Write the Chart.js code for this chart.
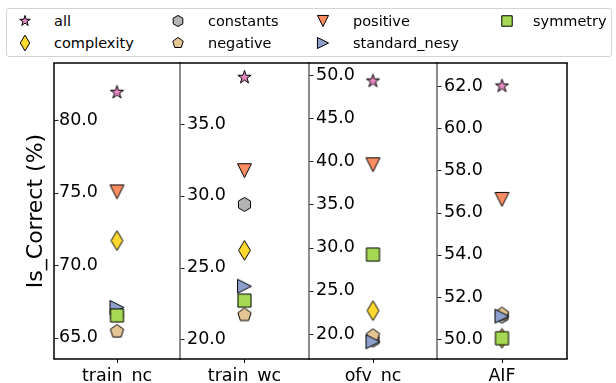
<!DOCTYPE html>
<html>
<head>
<meta charset="utf-8">
<script src="https://cdn.jsdelivr.net/npm/chart.js@4.4.0/dist/chart.umd.min.js"></script>
<style>
  html, body { margin: 0; padding: 0; background: #fff; overflow: hidden; }
  body { width: 616px; height: 383px; position: relative; font-family: "DejaVu Sans", sans-serif; }
  canvas.panel { position: absolute; top: 58px; }
  #legend { position: absolute; left: 6px; top: 8px; width: 604px; height: 47px;
            border: 1px solid #d4d4d4; border-radius: 3px; }
  .lab { position: absolute; font-size: 14.5px; line-height: 18px; color: #000; white-space: nowrap; }
  .mk { position: absolute; }
</style>
</head>
<body>
<div id="legend"></div>
<canvas class="panel" id="p0"></canvas>
<canvas class="panel" id="p1"></canvas>
<canvas class="panel" id="p2"></canvas>
<canvas class="panel" id="p3"></canvas>

<script>
// benchmarks (one panel each)
const categories = ['train_nc', 'train_wc', 'ofv_nc', 'AIF'];
const seriesNames = ['all', 'complexity', 'constants', 'negative', 'positive', 'standard_nesy', 'symmetry'];

// Is_Correct (%) per benchmark
const allVals          = [81.9, 38.25, 49.3, 62.0];
const complexityVals   = [71.7, 26.2, 22.7, 50.05];
const constantsVals    = [66.6, 29.4, 19.3, 51.1];
const negativeVals     = [65.45, 21.7, 19.8, 51.2];
const positiveVals     = [75.05, 31.75, 39.6, 56.63];
const standardNesyVals = [67.1, 23.7, 19.1, 51.1];
const symmetryVals     = [66.55, 22.7, 29.2, 50.05];

const yTicks = [
  [65, 70, 75, 80],
  [20, 25, 30, 35],
  [20, 25, 30, 35, 40, 45, 50],
  [50, 52, 54, 56, 58, 60, 62]
];
const yMin = [63.55, 18.63, 17.1, 49.07];
const yMax = [83.92, 39.25, 51.39, 63.09];

const seriesVals = [allVals, complexityVals, constantsVals, negativeVals,
                    positiveVals, standardNesyVals, symmetryVals];
const shapes = ['star', 'diamond', 'hex', 'pent', 'tdown', 'tright', 'square'];
const colors = ['#e78ac3', '#ffd92f', '#b3b3b3', '#e5c494', '#fc8d62', '#8da0cb', '#a6d854'];

const FONT = "'DejaVu Sans'";
Chart.defaults.font.family = FONT;
Chart.defaults.color = '#000';

// matplotlib-like markers drawn on small canvases, used as pointStyle
function makeMarker(shape, fill, k) {
  const s = 13.9 * k;
  const c = document.createElement('canvas');
  const w = Math.ceil(s * 1.6) + 4;
  c.width = w; c.height = w;
  const g = c.getContext('2d');
  g.translate(w / 2, w / 2);
  let pts = [];
  const r = s / 2;
  if (shape === 'star') {
    for (let i = 0; i < 10; i++) {
      const rr = i % 2 ? r * 0.381966 : r;
      const a = -Math.PI / 2 + i * Math.PI / 5;
      pts.push([rr * Math.cos(a), rr * Math.sin(a)]);
    }
  } else if (shape === 'hex' || shape === 'pent') {
    const n = shape === 'hex' ? 6 : 5;
    for (let i = 0; i < n; i++) {
      const a = -Math.PI / 2 + i * 2 * Math.PI / n;
      pts.push([r * Math.cos(a), r * Math.sin(a)]);
    }
  } else if (shape === 'tdown') {
    pts = [[0, r], [-r, -r], [r, -r]];
  } else if (shape === 'tright') {
    pts = [[r, 0], [-r, -r], [-r, r]];
  } else if (shape === 'diamond') {
    const h = s * 0.7071, wd = h * 0.6;
    pts = [[0, -h], [wd, 0], [0, h], [-wd, 0]];
  } else {
    const h = s * 0.47;
    pts = [[-h, -h], [h, -h], [h, h], [-h, h]];
  }
  g.beginPath();
  pts.forEach((p, i) => i ? g.lineTo(p[0], p[1]) : g.moveTo(p[0], p[1]));
  g.closePath();
  g.fillStyle = fill;
  g.fill();
  g.lineWidth = 1;
  g.lineJoin = 'miter';
  g.strokeStyle = '#000';
  g.stroke();
  return c;
}

const markers = shapes.map((sh, j) => makeMarker(sh, colors[j], 1));

// panel frame + inward y tick marks
const framePlugin = {
  id: 'frame',
  afterDraw(chart, args, opts) {
    const { ctx, chartArea: a } = chart;
    const y = chart.scales.y;
    ctx.save();
    ctx.strokeStyle = '#222';
    ctx.lineWidth = 1;
    yTicks[opts.idx].forEach(v => {
      const py = Math.round(y.getPixelForValue(v)) + 0.5;
      ctx.beginPath(); ctx.moveTo(a.left, py); ctx.lineTo(a.left + 4.5, py); ctx.stroke();
    });
    ctx.lineWidth = 1.5;
    ctx.strokeStyle = opts.idx === 0 ? '#000' : '#666';
    ctx.beginPath(); ctx.moveTo(a.left, a.top); ctx.lineTo(a.left, a.bottom); ctx.stroke();
    if (opts.idx === 3) {
      ctx.strokeStyle = '#000';
      ctx.beginPath(); ctx.moveTo(a.right, a.top); ctx.lineTo(a.right, a.bottom); ctx.stroke();
    }
    ctx.strokeStyle = '#000';
    ctx.beginPath();
    ctx.moveTo(a.left - 0.75, a.top); ctx.lineTo(a.right + 0.75, a.top);
    ctx.moveTo(a.left - 0.75, a.bottom); ctx.lineTo(a.right + 0.75, a.bottom);
    ctx.stroke();
    ctx.restore();
  }
};

const lefts = [54, 180, 309, 437];
const rights = [180, 309, 437, 567];
const CANVAS_H = 325;

categories.forEach((cat, i) => {
  const cv = document.getElementById('p' + i);
  const padL = i === 0 ? 0 : 3;
  const x0 = i === 0 ? 0 : lefts[i] - 3;
  const w = rights[i] + 3 - x0;
  cv.width = w; cv.height = CANVAS_H;
  cv.style.left = x0 + 'px';
  cv.style.width = w + 'px'; cv.style.height = CANVAS_H + 'px';

  new Chart(cv, {
    type: 'line',
    data: {
      labels: [cat],
      datasets: seriesNames.map((name, j) => ({
        label: name,
        data: [seriesVals[j][i]],
        order: -j,
        showLine: false,
        pointStyle: markers[j],
        pointRadius: 8,
        pointHoverRadius: 8,
        clip: false
      }))
    },
    options: {
      responsive: false,
      animation: false,
      events: [],
      layout: { autoPadding: false, padding: { left: padL, right: 3, top: 5, bottom: 0 } },
      plugins: {
        legend: { display: false },
        tooltip: { enabled: false },
        frame: { idx: i }
      },
      scales: {
        x: {
          type: 'category',
          offset: true,
          border: { display: false },
          grid: { drawOnChartArea: false, drawTicks: true, tickLength: 4, color: '#000', tickWidth: 1 },
          ticks: { font: { size: 17.5 }, color: '#000', padding: 2.5, maxRotation: 0 },
          afterFit: s => { s.height = 24; s.paddingLeft = 0; s.paddingRight = 0; }
        },
        y: {
          min: yMin[i],
          max: yMax[i],
          border: { display: false },
          grid: { display: false, drawTicks: false },
          afterBuildTicks: s => { s.ticks = yTicks[i].map(v => ({ value: v })); },
          afterFit: s => { s.width = i === 0 ? 54 : 0; s.paddingTop = 0; s.paddingBottom = 0; },
          ticks: {
            mirror: true,
            padding: i === 0 ? 5 : 7,
            font: { size: 17.5 },
            color: '#000',
            callback: v => Number(v).toFixed(1)
          },
          title: {
            display: i === 0,
            text: 'Is_Correct (%)',
            font: { size: 22 },
            color: '#000',
            padding: { top: 23, bottom: 0 }
          }
        }
      }
    },
    plugins: [framePlugin]
  });
});

// legend (matplotlib fills columns first)
const legendPos = [
  [25, 21], [25, 43], [178, 21], [178, 43], [323, 21], [323, 43], [507, 21]
];
const textX = [54, 54, 208, 208, 353, 353, 533];
seriesNames.forEach((name, j) => {
  const m = makeMarker(shapes[j], colors[j], 0.8);
  m.className = 'mk';
  m.style.left = (legendPos[j][0] - m.width / 2) + 'px';
  m.style.top = (legendPos[j][1] - m.height / 2) + 'px';
  document.body.appendChild(m);
  const t = document.createElement('div');
  t.className = 'lab';
  t.textContent = name;
  t.style.left = textX[j] + 'px';
  t.style.top = (legendPos[j][1] - 9) + 'px';
  document.body.appendChild(t);
});
</script>
</body>
</html>
